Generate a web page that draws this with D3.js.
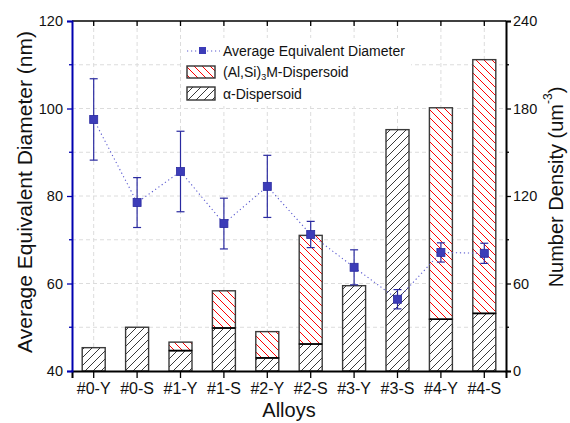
<!DOCTYPE html>
<html><head><meta charset="utf-8">
<script src="https://cdn.jsdelivr.net/npm/d3@7"></script>
<style>body{margin:0;background:#fff}svg{display:block;font-family:"Liberation Sans",Arial,sans-serif}</style>
</head><body><svg id="c" width="570" height="423"></svg>
<script>
const categories = ["#0-Y","#0-S","#1-Y","#1-S","#2-Y","#2-S","#3-Y","#3-S","#4-Y","#4-S"];
const alphaDensity = [16, 30, 14, 29.5, 9, 18.5, 58.5, 165.5, 35.5, 39.5];
const alSiMDensity = [0, 0, 5.8, 25.5, 18, 74.5, 0, 0, 145, 174];
const diameter = [97.5, 78.5, 85.6, 73.7, 82.2, 71.2, 63.7, 56.4, 67.1, 66.9];
const diameterErr = [9.3, 5.7, 9.2, 5.8, 7.1, 3.0, 4.0, 2.2, 2.2, 2.3];
const leftTicks = [40, 60, 80, 100, 120];
const rightTicks = [0, 60, 120, 180, 240];

const svg = d3.select("#c");
const L = 72, R = 506, T = 21, B = 371;
const x = d3.scaleBand().domain(categories).range([L, R]).padding(0);
const yL = d3.scaleLinear().domain([40, 120]).range([B, T]);
const yR = d3.scaleLinear().domain([0, 240]).range([B, T]);
const barW = 23;

const defs = svg.append("defs");
const pa = defs.append("pattern").attr("id","hA").attr("patternUnits","userSpaceOnUse").attr("width",8).attr("height",8);
pa.append("rect").attr("width",8).attr("height",8).attr("fill","#fff");
pa.append("path").attr("d","M-2,2 L2,-2 M0,8 L8,0 M6,10 L10,6").attr("stroke","#222").attr("stroke-width",0.9);
const pb = defs.append("pattern").attr("id","hB").attr("patternUnits","userSpaceOnUse").attr("width",8).attr("height",8);
pb.append("rect").attr("width",8).attr("height",8).attr("fill","#fff");
pb.append("path").attr("d","M-2,6 L2,10 M0,0 L8,8 M6,-2 L10,2").attr("stroke","#f00").attr("stroke-width",1);

// grid
const grid = svg.append("g").attr("stroke","#dcdcdc").attr("stroke-dasharray","4,3").attr("stroke-width",1);
d3.range(50, 120, 10).forEach(v => grid.append("line").attr("x1",L).attr("x2",R).attr("y1",yL(v)).attr("y2",yL(v)));
categories.forEach(c => grid.append("line").attr("x1",x(c)+x.bandwidth()/2).attr("x2",x(c)+x.bandwidth()/2).attr("y1",T).attr("y2",B));

// bars
const bars = svg.append("g");
categories.forEach((c,i) => {
  const cx = x(c)+x.bandwidth()/2;
  const a = alphaDensity[i], b = alSiMDensity[i];
  bars.append("rect").attr("x",cx-barW/2).attr("width",barW)
    .attr("y",yR(a)).attr("height",yR(0)-yR(a))
    .attr("fill","url(#hA)").attr("stroke","#3a3a3a").attr("stroke-width",1.4);
  if (b > 0) {
    bars.append("rect").attr("x",cx-barW/2).attr("width",barW)
      .attr("y",yR(a+b)).attr("height",yR(a)-yR(a+b))
      .attr("fill","url(#hB)").attr("stroke","#3a3a3a").attr("stroke-width",1.4);
    bars.append("line").attr("x1",cx-barW/2).attr("x2",cx+barW/2).attr("y1",yR(a)).attr("y2",yR(a)).attr("stroke","#000").attr("stroke-width",1.6);
  }
});

// diameter line
const cxs = categories.map(c => x(c)+x.bandwidth()/2);
svg.append("path").attr("d", d3.line()(diameter.map((d,i)=>[cxs[i], yL(d)])))
  .attr("fill","none").attr("stroke","#5a5ad0").attr("stroke-width",1.1).attr("stroke-dasharray","1.2,2.8");
const eb = svg.append("g").attr("stroke","#2a2aa0").attr("stroke-width",1.2);
diameter.forEach((d,i) => {
  const cx = cxs[i], e = diameterErr[i];
  eb.append("line").attr("x1",cx).attr("x2",cx).attr("y1",yL(d+e)).attr("y2",yL(d-e));
  eb.append("line").attr("x1",cx-4).attr("x2",cx+4).attr("y1",yL(d+e)).attr("y2",yL(d+e));
  eb.append("line").attr("x1",cx-4).attr("x2",cx+4).attr("y1",yL(d-e)).attr("y2",yL(d-e));
});
svg.append("g").selectAll("rect").data(diameter).join("rect")
  .attr("x",(d,i)=>cxs[i]-4).attr("y",d=>yL(d)-4).attr("width",8).attr("height",8)
  .attr("fill","#3c3cb8").attr("stroke","#2a2aa0").attr("stroke-width",0.8);

// frame top
svg.append("line").attr("x1",L).attr("x2",R).attr("y1",T).attr("y2",T).attr("stroke","#000").attr("stroke-width",1.5);
categories.forEach(c => svg.append("line").attr("x1",x(c)+x.bandwidth()/2).attr("x2",x(c)+x.bandwidth()/2).attr("y1",T).attr("y2",T+5).attr("stroke","#000").attr("stroke-width",1.3));

// axes
const fs = 14.5;
const gx = svg.append("g").attr("transform",`translate(0,${B})`).call(d3.axisBottom(x).tickSize(7).tickPadding(5));
gx.select(".domain").attr("stroke","#000").attr("stroke-width",2);
gx.selectAll(".tick line").attr("stroke","#000").attr("stroke-width",1.3);
gx.selectAll("text").attr("font-size",16).attr("fill","#111").attr("font-family","Liberation Sans, Arial");

const gl = svg.append("g").attr("transform",`translate(${L},0)`).call(d3.axisLeft(yL).tickValues(leftTicks).tickSize(5).tickPadding(4));
gl.select(".domain").attr("stroke","#0000b0").attr("stroke-width",2);
gl.selectAll(".tick line").attr("stroke","#0000b0").attr("stroke-width",1.3);
gl.selectAll("text").attr("font-size",fs).attr("fill","#111").attr("font-family","Liberation Sans, Arial");
d3.range(50,120,20).forEach(v => svg.append("line").attr("x1",L-3).attr("x2",L).attr("y1",yL(v)).attr("y2",yL(v)).attr("stroke","#0000b0").attr("stroke-width",1.3));

const gr = svg.append("g").attr("transform",`translate(${R},0)`).call(d3.axisRight(yR).tickValues(rightTicks).tickSize(5).tickPadding(2));
gr.select(".domain").attr("stroke","#000").attr("stroke-width",2);
gr.selectAll(".tick line").attr("stroke","#000").attr("stroke-width",1.3);
gr.selectAll("text").attr("font-size",fs).attr("fill","#111").attr("font-family","Liberation Sans, Arial");
d3.range(30,240,60).forEach(v => svg.append("line").attr("x1",R).attr("x2",R+3).attr("y1",yR(v)).attr("y2",yR(v)).attr("stroke","#000").attr("stroke-width",1.3));

// titles
svg.append("text").attr("transform",`translate(24,192) rotate(-90)`).attr("text-anchor","middle").attr("dominant-baseline","central")
  .attr("font-size",21).attr("fill","#111").text("Average Equivalent Diameter (nm)");
const rt = svg.append("text").attr("transform",`translate(556,187) rotate(-90)`).attr("text-anchor","middle").attr("dominant-baseline","central")
  .attr("font-size",20).attr("fill","#111");
rt.append("tspan").text("Number Density (um");
rt.append("tspan").attr("font-size",12).attr("dy",-8).text("-3");
rt.append("tspan").attr("dy",8).text(")");
svg.append("text").attr("x",(L+R)/2).attr("y",417).attr("text-anchor","middle").attr("font-size",20).attr("fill","#111").text("Alloys");

// legend
const lg = svg.append("g");
lg.append("rect").attr("x",183).attr("y",38).attr("width",228).attr("height",68).attr("fill","#fff");
lg.append("line").attr("x1",187).attr("x2",220).attr("y1",51).attr("y2",51).attr("stroke","#5a5ad0").attr("stroke-width",1.1).attr("stroke-dasharray","1.2,2.8");
lg.append("rect").attr("x",199).attr("y",47).attr("width",7).attr("height",7).attr("fill","#3c3cb8");
lg.append("text").attr("x",223).attr("y",51).attr("dominant-baseline","central").attr("font-size",14).attr("fill","#111").text("Average Equivalent Diameter");
lg.append("rect").attr("x",187).attr("y",66).attr("width",28).attr("height",12).attr("fill","url(#hB)").attr("stroke","#333").attr("stroke-width",1.4);
const t2 = lg.append("text").attr("x",223).attr("y",72).attr("dominant-baseline","central").attr("font-size",14).attr("fill","#111");
t2.append("tspan").text("(Al,Si)");
t2.append("tspan").attr("font-size",9).attr("dy",5).text("3");
t2.append("tspan").attr("dy",-5).text("M-Dispersoid");
lg.append("rect").attr("x",187).attr("y",87).attr("width",28).attr("height",13).attr("fill","url(#hA)").attr("stroke","#333").attr("stroke-width",1.4);
lg.append("text").attr("x",223).attr("y",93.5).attr("dominant-baseline","central").attr("font-size",14).attr("fill","#111").text("α-Dispersoid");
</script></body></html>
